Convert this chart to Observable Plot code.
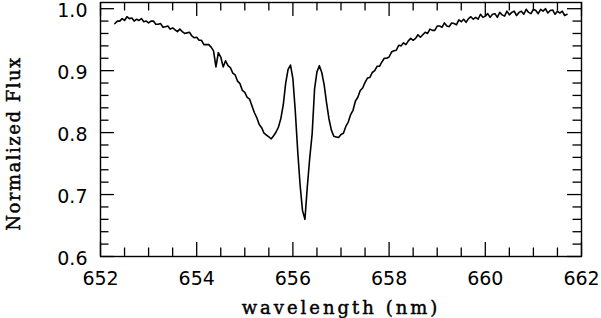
<!DOCTYPE html>
<html><head><meta charset="utf-8">
<script src="https://cdn.jsdelivr.net/npm/d3@7"></script>
<script src="https://cdn.jsdelivr.net/npm/@observablehq/plot@0.6"></script>
<style>html,body{margin:0;padding:0;background:#fff}svg{display:block}</style>
</head><body><div id="chart"></div>
<script>
const wavelengthStart = 652.30;
const wavelengthStep = 0.05;
const flux = [
0.976,0.980,0.980,0.984,0.981,0.987,0.984,0.985,0.980,0.983,
0.981,0.984,0.979,0.980,0.977,0.980,0.980,0.975,0.975,0.976,
0.970,0.971,0.972,0.967,0.969,0.966,0.963,0.967,0.963,0.960,
0.961,0.962,0.956,0.953,0.954,0.949,0.949,0.942,0.942,0.942,
0.938,0.932,0.906,0.929,0.922,0.906,0.916,0.908,0.905,0.896,
0.893,0.883,0.879,0.868,0.865,0.857,0.854,0.843,0.832,0.824,
0.813,0.808,0.799,0.796,0.793,0.790,0.795,0.801,0.809,0.823,
0.845,0.880,0.902,0.909,0.887,0.834,0.770,0.715,0.674,0.660,
0.713,0.759,0.798,0.870,0.898,0.908,0.897,0.877,0.848,0.822,
0.804,0.794,0.793,0.792,0.797,0.799,0.810,0.817,0.829,0.836,
0.851,0.857,0.868,0.872,0.881,0.888,0.889,0.897,0.900,0.907,
0.907,0.914,0.920,0.920,0.922,0.930,0.932,0.933,0.941,0.940,
0.945,0.942,0.948,0.952,0.949,0.952,0.958,0.954,0.958,0.962,
0.960,0.967,0.965,0.965,0.972,0.972,0.970,0.977,0.972,0.971,
0.977,0.976,0.974,0.982,0.979,0.983,0.978,0.984,0.987,0.983,
0.986,0.983,0.991,0.986,0.988,0.992,0.986,0.991,0.992,0.986,
0.994,0.990,0.988,0.996,0.990,0.994,0.996,0.989,0.994,0.996,
0.991,0.999,0.994,0.992,0.999,0.997,0.992,0.999,0.996,1.000,
0.993,0.997,0.998,0.991,0.996,0.993,0.996,0.989,0.991
];
const xMajorTicks = [652, 654, 656, 658, 660, 662];
const xMinorTicks = [652.5, 653, 653.5, 654.5, 655, 655.5, 656.5, 657, 657.5, 658.5, 659, 659.5, 660.5, 661, 661.5];
const yMajorTicks = [0.6, 0.7, 0.8, 0.9, 1.0];
const yMinorTicks = [0.62,0.64,0.66,0.68,0.72,0.74,0.76,0.78,0.82,0.84,0.86,0.88,0.92,0.94,0.96,0.98];
const xTitle = "wavelength (nm)";
const yTitle = "Normalized Flux";

const data = flux.map((f, i) => ({wavelength: +(wavelengthStart + i * wavelengthStep).toFixed(2), flux: f}));

const W = 601, H = 318, mT = 2, mB = 62, mL = 100, mR = 20;
const plotH = H - mT - mB, plotW = W - mL - mR;
const majorLen = 14, minorLen = 8.5;
const tickStyle = {stroke: "#000", strokeWidth: 1.3};
const titleStyle = {fontFamily: "DejaVu Serif", fontSize: 18, fill: "#000", stroke: "#000", strokeWidth: 0.45, textAnchor: "middle"};

const chart = Plot.plot({
  width: W, height: H,
  marginTop: mT, marginBottom: mB, marginLeft: mL, marginRight: mR,
  x: {domain: [652, 662]},
  y: {domain: [0.6, 1.01]},
  style: {fontFamily: "DejaVu Sans", fontSize: "19px", color: "#000", background: "#fff"},
  marks: [
    Plot.line(data, {x: "wavelength", y: "flux", stroke: "#000", strokeWidth: 1.6}),
    Plot.tickX(xMajorTicks, {x: d => d, insetTop: plotH - majorLen, ...tickStyle}),
    Plot.tickX(xMajorTicks, {x: d => d, insetBottom: plotH - majorLen, ...tickStyle}),
    Plot.tickX(xMinorTicks, {x: d => d, insetTop: plotH - minorLen, ...tickStyle}),
    Plot.tickX(xMinorTicks, {x: d => d, insetBottom: plotH - minorLen, ...tickStyle}),
    Plot.tickY(yMajorTicks, {y: d => d, insetRight: plotW - majorLen, ...tickStyle}),
    Plot.tickY(yMajorTicks, {y: d => d, insetLeft: plotW - majorLen, ...tickStyle}),
    Plot.tickY(yMinorTicks, {y: d => d, insetRight: plotW - minorLen, ...tickStyle}),
    Plot.tickY(yMinorTicks, {y: d => d, insetLeft: plotW - minorLen, ...tickStyle}),
    Plot.frame({stroke: "#000", strokeWidth: 1.4}),
    Plot.axisX(xMajorTicks, {anchor: "bottom", tickSize: 0, tickPadding: 15, tickFormat: d => String(d), label: null, fontSize: 19}),
    Plot.axisY(yMajorTicks, {anchor: "left", tickSize: 0, tickPadding: 13, dy: 2, tickFormat: d3.format(".1f"), label: null, fontSize: 19}),
    Plot.text([xTitle], {text: d => d, frameAnchor: "bottom", lineAnchor: "bottom", dy: 57, ...titleStyle}),
    Plot.text([yTitle], {text: d => d, frameAnchor: "left", lineAnchor: "middle", dx: -86, dy: 14, rotate: -90, ...titleStyle})
  ]
});
chart.querySelectorAll("text").forEach(t => {
  if (t.textContent === xTitle) t.setAttribute("letter-spacing", "3");
  if (t.textContent === yTitle) t.setAttribute("letter-spacing", "1.5");
});
document.getElementById("chart").appendChild(chart);
</script>
</body></html>
